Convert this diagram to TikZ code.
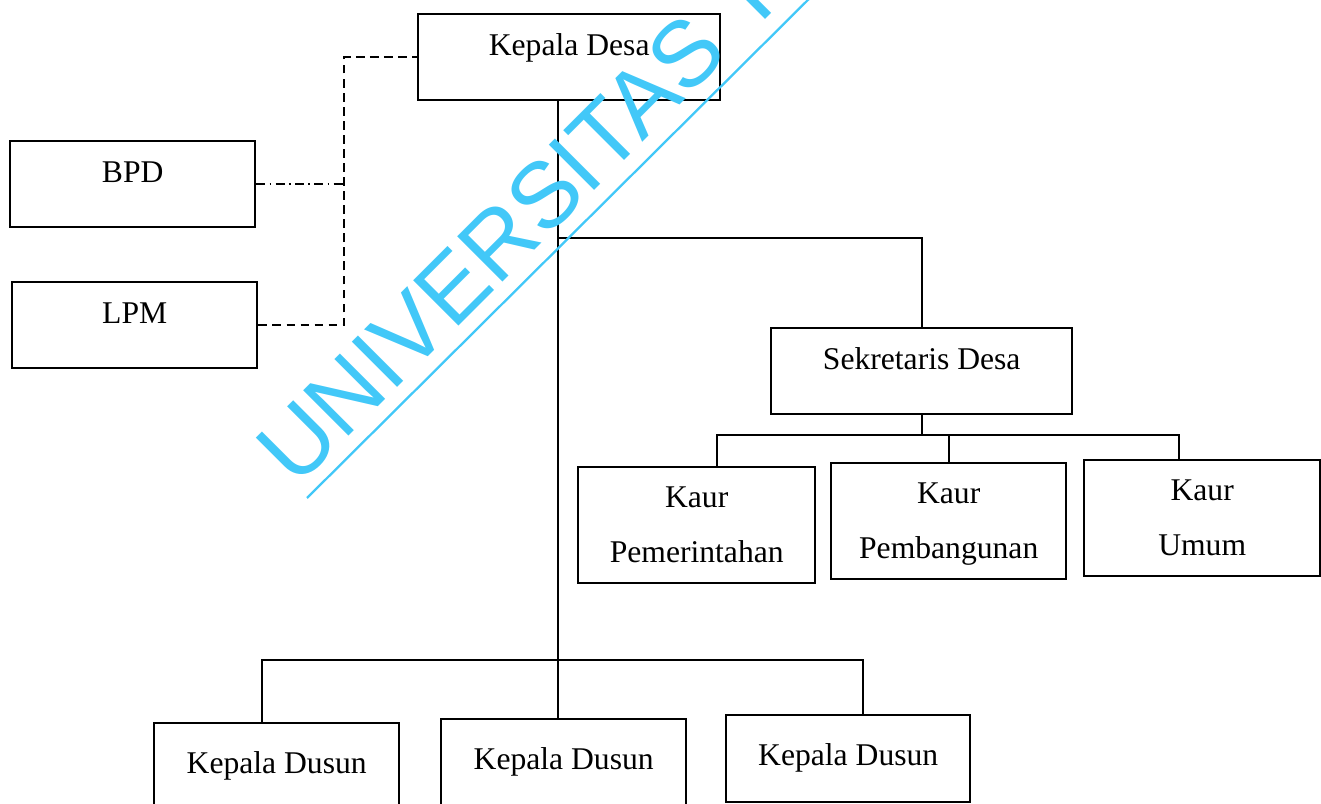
\documentclass[tikz,border=0pt]{standalone}
\usepackage{fontspec}
\setmainfont{Liberation Serif}
\newfontfamily\wmfont{Liberation Sans}
\definecolor{wmcyan}{RGB}{66,200,248}

\begin{document}
\begin{tikzpicture}[x=0.02cm, y=-0.02cm,
    orgbox/.style={draw=black, line width=1.4pt, anchor=north west,
                   inner xsep=0pt, inner ysep=0pt, align=center,
                   text height=0.82cm, text depth=0.90cm,
                   font=\fontsize{18}{22}\selectfont},
    kaurbox/.style={orgbox, text height=1.90cm, text depth=0.42cm,
                    font=\fontsize{18}{31}\selectfont},
    dusunbox/.style={orgbox, text height=1.00cm, text depth=0.74cm},
    link/.style={draw=black, line width=1.1pt},
    dashlink/.style={link, dash pattern=on 5pt off 3pt},
    dotlink/.style={link, line width=0.9pt,
                    dash pattern=on 5pt off 2.5pt on 1pt off 2.5pt},
    watermark/.style={anchor=base west, inner sep=0pt, rotate=45,
                      text=wmcyan, font=\wmfont\fontsize{53}{53}\selectfont}
  ]
    \useasboundingbox (0,0) rectangle (1321,804);

    \node[orgbox, minimum width=6.04cm] (kades) at (417,13)  {Kepala Desa};
    \node[orgbox, minimum width=4.90cm] (bpd)   at (9,140)   {BPD};
    \node[orgbox, minimum width=4.90cm] (lpm)   at (11,281)  {LPM};
    \node[orgbox, minimum width=6.02cm] (sekdes) at (770,327) {Sekretaris Desa};

    \node[kaurbox, minimum width=4.74cm] (kaurpem)  at (577,466)  {Kaur\\Pemerintahan};
    \node[kaurbox, minimum width=4.70cm] (kaurbang) at (830,462)  {Kaur\\Pembangunan};
    \node[kaurbox, minimum width=4.72cm] (kaurumum) at (1083,459) {Kaur\\Umum};

    \node[dusunbox, minimum width=4.90cm] (dusuna) at (153,722) {Kepala Dusun};
    \node[dusunbox, minimum width=4.90cm] (dusunb) at (440,718) {Kepala Dusun};
    \node[dusunbox, minimum width=4.88cm] (dusunc) at (725,714) {Kepala Dusun};

    \coordinate (trunk)   at (558,0);
    \coordinate (rail)    at (344,0);
    \coordinate (sekbar)  at (558,238);
    \coordinate (kaurbar) at (921,435);
    \coordinate (dusbar)  at (558,660);

    \draw[link] (trunk |- kades.south) -- (trunk |- dusunb.north);
    \draw[link] (sekbar) -| (sekdes.north);
    \draw[link] (sekdes.south) -- (sekdes.south |- kaurbar);
    \draw[link] ([xshift=0.4cm]kaurpem.north) |- (kaurbar) -| ([xshift=-0.46cm]kaurumum.north);
    \draw[link] (kaurbang.north) -- (kaurbang.north |- kaurbar);
    \draw[link] ([xshift=-0.3cm]dusuna.north) |- (dusbar) -| ([xshift=0.3cm]dusunc.north);

    \draw[dashlink] (lpm.east) -- (rail |- lpm.east) |- (kades.west);
    \draw[dotlink] (bpd.east) -- (rail |- bpd.east);

    \begin{scope}
      \clip (0,0) rectangle (1321,804);
      \node[watermark] (wm) at (296,489) {UNIVERSITAS TERBUKA};
      \draw[wmcyan, line width=1.3pt] (307,498) -- (830,-22);
    \end{scope}
\end{tikzpicture}
\end{document}
